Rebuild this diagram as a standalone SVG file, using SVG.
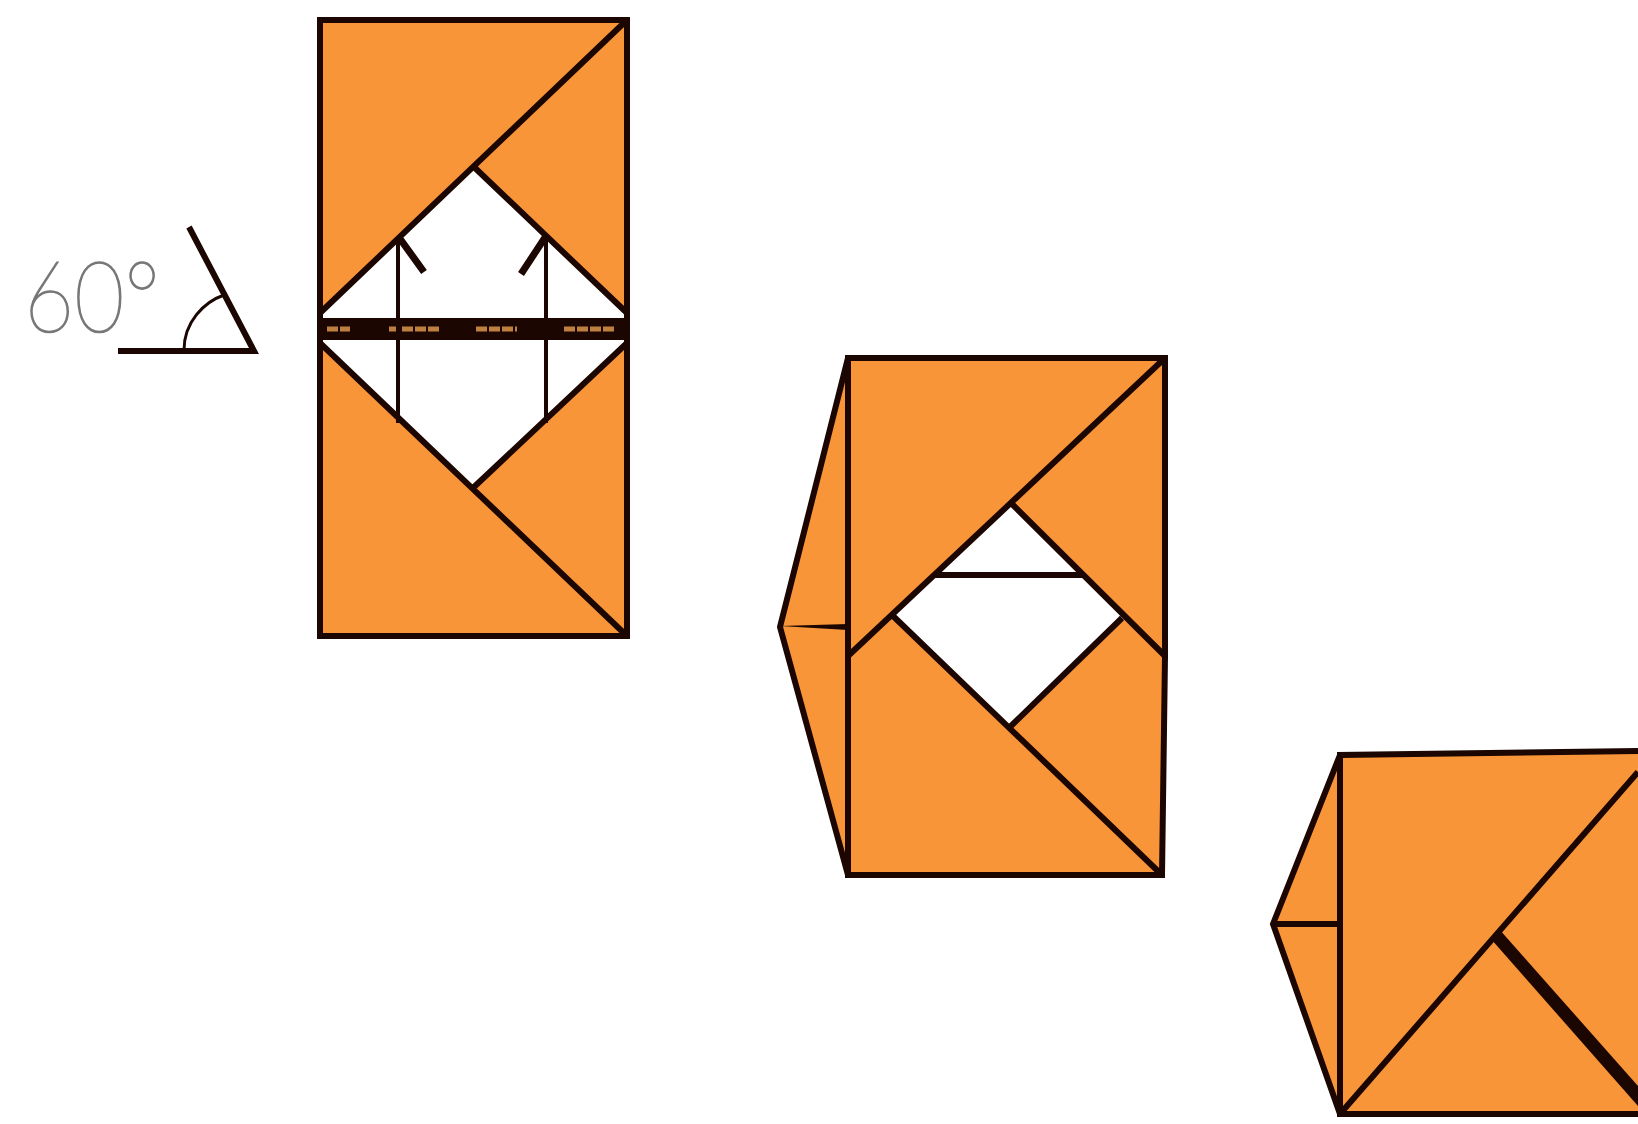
<svg xmlns="http://www.w3.org/2000/svg" width="1638" height="1124" viewBox="0 0 1638 1124">
<style>
.o{fill:#f99539;stroke:none}
.l{fill:none;stroke:#1c0602;stroke-width:6;stroke-linecap:butt;stroke-linejoin:miter}
.t{stroke-width:4}
.h{fill:none;stroke:#bd8040;stroke-width:5;stroke-dasharray:11 2}
</style>
<rect width="1638" height="1124" fill="#fff"/>
<g id="angle-label">
<text x="24" y="332" font-family="Lato, 'Liberation Sans', sans-serif" font-weight="100" font-size="98" fill="#777" stroke="#777" stroke-width="1.6" textLength="136" lengthAdjust="spacingAndGlyphs">60°</text>
<path class="l" d="M118 351H254L189 227"/>
<path class="l t" style="stroke-width:3" d="M184 350C184 322 204 302 224 295"/>
</g>
<g id="figure-1">
<path class="o" d="M320 20H627V313L474 167L320 313ZM320 343L474 487L627 343V636H320Z"/>
<path d="M320 318H627V340H320Z" fill="#1c0602"/>
<path class="h" d="M327 329H350M389 329H439M476 329H517M564 329H616"/>
<path class="l" d="M320 20H627V636H320ZM627 20L320 313M474 167L627 313M320 343L627 636M474 487L627 343"/>
</g>
<g id="figure-2">
<path class="o" d="M848 358H1165V656L1011 503L848 656L780 627ZM848 656L892 615L1011 726L1122 618L1165 656L1162 875H848L780 627Z"/>
<path class="l" d="M848 358H1165V656L1162 875H848ZM848 358L780 627L848 875M1165 358L848 656M1011 503L1165 656M892 615L1162 875M1011 726L1122 618M933 575H1083"/>
<path d="M780 626L848 624V630Z" fill="#1c0602"/>
</g>
<g id="figure-3">
<path class="o" d="M1340 755L1638 751V1114H1340L1273 924Z"/>
<path class="l" d="M1638 751L1340 755V1114H1638M1340 755L1273 924L1340 1114M1273 924H1340M1340 1114L1638 772"/>
<path d="M1499 929L1638 1086V1106L1491 939Z" fill="#1c0602"/>
</g>
<g id="connectors">
<path class="l t" d="M398 238V423M546 238V423"/>
<path class="l" style="stroke-width:7" d="M398 236L424 272M546 236L521 274"/>
</g>
</svg>
